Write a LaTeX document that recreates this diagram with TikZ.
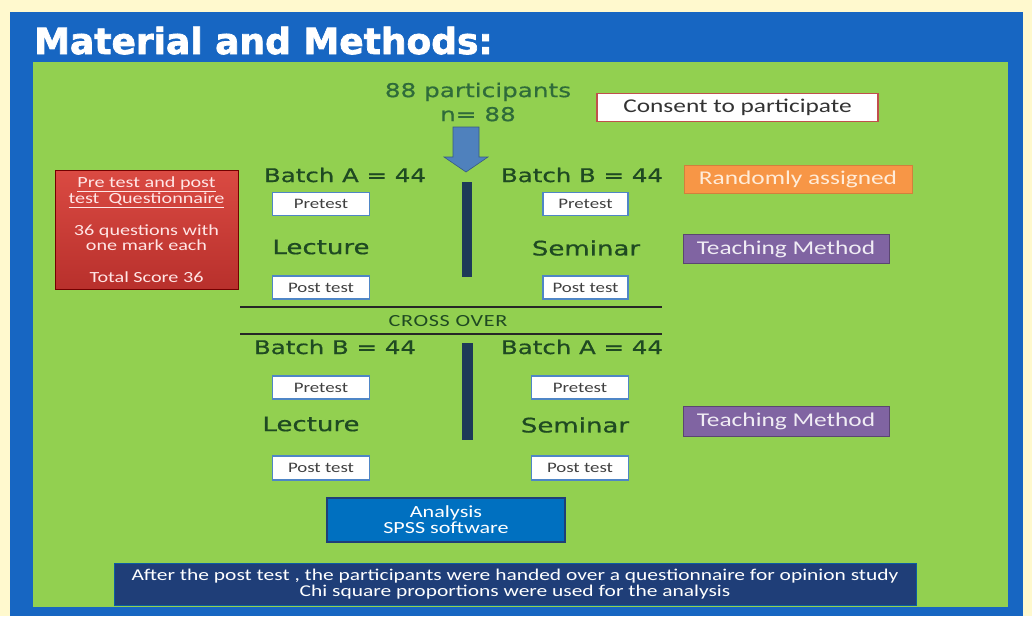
\documentclass[tikz,border=0pt]{standalone}
\usepackage{fontspec}
\setmainfont{Carlito}[FakeStretch=1.3]
\newfontfamily\wideface{DejaVu Sans}[FakeStretch=1.3,FakeBold=0.6]
\newfontfamily\titleface{DejaVu Sans}[FakeBold=2]
\usetikzlibrary{positioning,shadings}
\definecolor{cream}{HTML}{FFF9CE}
\definecolor{frameblue}{HTML}{1766C2}
\definecolor{slidegreen}{HTML}{92D050}
\definecolor{leafgreen}{HTML}{2F6B3A}
\definecolor{darkleaf}{HTML}{1F4A22}
\definecolor{barnavy}{HTML}{1D3A58}
\definecolor{arrowblue}{HTML}{4F81BD}
\definecolor{testblue}{HTML}{4F86C6}
\definecolor{boxorange}{HTML}{F79646}
\definecolor{boxpurple}{HTML}{8064A2}
\definecolor{spssblue}{HTML}{0070C0}
\definecolor{notenavy}{HTML}{1F3E78}
\definecolor{consentred}{HTML}{C0504D}
\definecolor{quiztop}{HTML}{DA4A42}
\definecolor{quizbottom}{HTML}{B8302C}

\begin{document}
\begin{tikzpicture}[x=1pt,y=-1pt,
every node/.style={inner sep=0pt},
greentext/.style={text=darkleaf,font=\wideface\fontsize{18.8}{20}\selectfont},
testbox/.style={draw=testblue,line width=1.2pt,fill=white,
  minimum width=97pt,minimum height=23pt,text=black!75,
  font=\fontsize{14.5}{15}\selectfont},
tagbox/.style={minimum width=206pt,minimum height=29pt,line width=1pt,
  font=\fontsize{19.5}{20}\selectfont},
bar/.style={fill=barnavy},
rule/.style={line width=2.6pt,draw=black!85}]
\fill[cream] (0,0) rectangle (1032,616);
\fill[frameblue] (10,12) rectangle (1023,616);
\fill[slidegreen] (33,62) rectangle (1008,607);
\node[anchor=base west,text=white,font=\titleface\bfseries\fontsize{36}{40}\selectfont]
 (title) at (34,54) {Material and Methods:};

\node[align=center,text=leafgreen,font=\wideface\fontsize{19}{24}\selectfont]
 (total) at (478,102) {88 participants\\n= 88};
\node[draw=consentred,line width=1.2pt,fill=white,minimum width=281pt,
 minimum height=28pt,text=black!80,font=\fontsize{19.5}{20}\selectfont]
 (consent) at (737.5,107.5) {Consent to participate};
\fill[arrowblue,draw=arrowblue!70!black,line width=.6pt]
 (453,127) -- (479,127) -- (479,157) -- (488,157) -- (466,172)
 -- (444,157) -- (453,157) -- cycle;

\node[greentext] (batchA1) at (345,175) {Batch A = 44};
\node[greentext] (batchB1) at (582,175) {Batch B = 44};
\node[tagbox,fill=boxorange,draw=boxorange!85!black,text=orange!15,
 minimum width=228pt,minimum height=28pt] (random) at (798,179) {Randomly assigned};

\node[draw=red!45!black,line width=1pt,top color=quiztop,
 bottom color=quizbottom,minimum width=183pt,
 minimum height=119pt,text=white!90!red,align=center,
 font=\fontsize{15.5}{15}\selectfont] (quiz) at (146.5,230)
 {\underline{Pre test and post}\\\underline{test \ Questionnaire}\\[17pt]
 36 questions with\\one mark each\\[17pt]Total Score 36};

\node[testbox] (preA1) at (321,204) {Pretest};
\node[testbox,minimum width=85pt] (preB1) at (585.5,204) {Pretest};
\node[greentext,font=\wideface\fontsize{20}{20}\selectfont] (lecA) at (321,247) {Lecture};
\node[greentext,font=\wideface\fontsize{20}{20}\selectfont] (semB) at (586,248) {Seminar};
\node[tagbox,fill=boxpurple,draw=boxpurple!70!black,text=white!88!boxpurple]
 (teach1) at (786,249) {Teaching Method};
\node[testbox] (postA1) at (321,287.5) {Post test};
\node[testbox,minimum width=85pt] (postB1) at (585.5,287.5) {Post test};
\fill[bar] (462,182) rectangle (472,277);

\coordinate (crossTL) at (240,307);
\coordinate (crossTR) at (662,307);
\coordinate (crossBL) at (240,334);
\coordinate (crossBR) at (662,334);
\draw[rule] (crossTL) -- (crossTR);
\draw[rule] (crossBL) -- (crossBR);
\node[text=darkleaf,font=\addfontfeature{LetterSpace=4}\fontsize{17}{18}\selectfont]
 (cross) at (448,321) {CROSS OVER};

\node[greentext] (batchB2) at (335,347) {Batch B = 44};
\node[greentext] (batchA2) at (582,347) {Batch A = 44};
\fill[bar] (462,343) rectangle (473,440);
\node[testbox] (preB2) at (321,387.5) {Pretest};
\node[testbox] (preA2) at (580,387.5) {Pretest};
\node[greentext,font=\wideface\fontsize{20}{20}\selectfont] (lecB) at (311,424) {Lecture};
\node[greentext,font=\wideface\fontsize{20}{20}\selectfont] (semA) at (575,425) {Seminar};
\node[tagbox,fill=boxpurple,draw=boxpurple!70!black,text=white!88!boxpurple,
 minimum height=30pt] (teach2) at (786,421) {Teaching Method};
\node[testbox,minimum height=24pt] (postB2) at (321,468) {Post test};
\node[testbox,minimum height=24pt] (postA2) at (580,468) {Post test};

\node[fill=spssblue,draw=notenavy,line width=1.2pt,minimum width=238pt,
 minimum height=44pt,text=white,align=center,font=\fontsize{17}{16}\selectfont]
 (spss) at (446,520) {Analysis\\SPSS software};
\node[fill=notenavy,draw=spssblue!60!notenavy,line width=.8pt,minimum width=802pt,
 minimum height=42pt,text=white,align=center,font=\fontsize{16.5}{16}\selectfont]
 (note) at (515,584) {After the post test , the participants were handed over a questionnaire for opinion study\\
 Chi square proportions were used for the analysis};
\end{tikzpicture}
\end{document}
